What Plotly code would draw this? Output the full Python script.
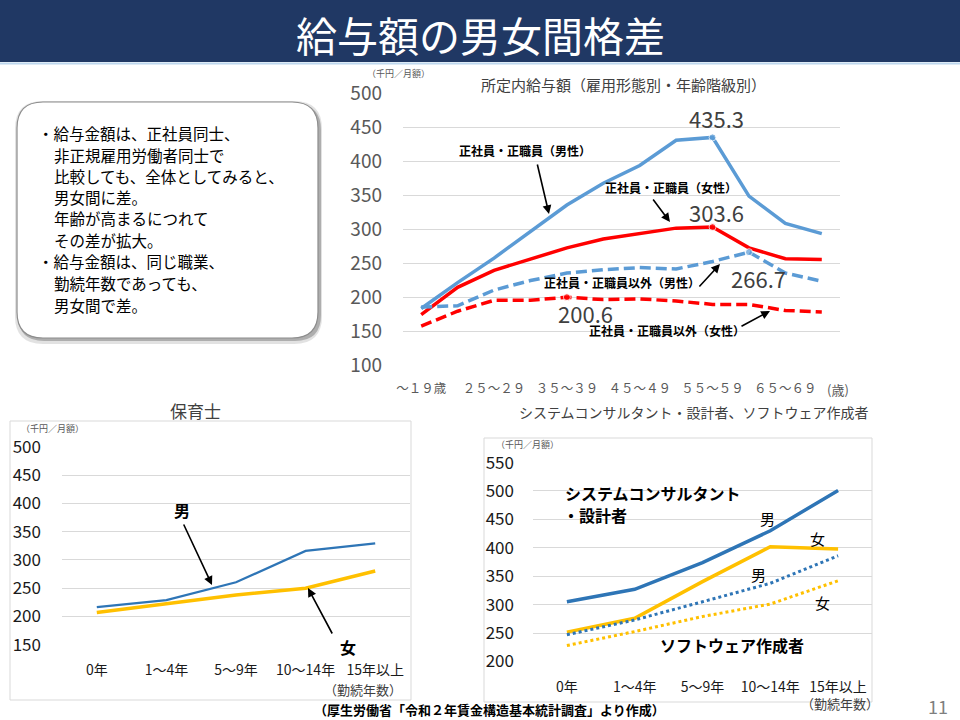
import plotly.graph_objects as go

# ---------------- data ----------------
ages = ["～19歳", "20～24歳", "25～29歳", "30～34歳", "35～39歳", "40～44歳",
        "45～49歳", "50～54歳", "55～59歳", "60～64歳", "65～69歳", "70歳～"]
age_tick_vals = ["～19歳", "25～29歳", "35～39歳", "45～49歳", "55～59歳", "65～69歳"]
age_tick_text = ["～１９歳", "２５～２９", "３５～３９", "４５～４９", "５５～５９", "６５～６９"]

reg_male = [184, 222, 258, 297, 336, 368, 394, 431, 435.3, 349, 309, 294]
reg_female = [175, 215, 240, 257, 273, 286, 294, 302, 303.6, 273, 257, 256]
nonreg_male = [186, 188, 211, 225, 236, 241, 244, 242, 253, 266.7, 236, 224]
nonreg_female = [158, 180, 196, 196, 200.6, 197, 198, 195, 190, 190, 181, 179]

years = ["0年", "1～4年", "5～9年", "10～14年", "15年以上"]
hoiku_male = [216.5, 229, 260.5, 316, 329.5]
hoiku_female = [207, 222, 238, 250, 280.5]

sc_male = [305, 327, 374, 430, 501]
sc_female = [251.5, 276, 340.5, 402, 398]
sw_male = [247, 273, 305, 337.5, 386]
sw_female = [228, 252.5, 279, 301, 342]

summary_lines = [
    ("・給与金額は、正社員同士、", True),
    ("非正規雇用労働者同士で", False),
    ("比較しても、全体としてみると、", False),
    ("男女間に差。", False),
    ("年齢が高まるにつれて", False),
    ("その差が拡大。", False),
    ("・給与金額は、同じ職業、", True),
    ("勤続年数であっても、", False),
    ("男女間で差。", False),
]

# ---------------- helpers ----------------
W, H = 960, 720
FONT = "Noto Sans CJK JP"


def PX(x):
    return x / W


def PY(y):
    return 1 - y / H


def peak_sizes(values, peak_value, size=7):
    return [size if v == peak_value else 0 for v in values]


BLUE_L = "#5B9BD5"
RED = "#FF0000"
BLUE_D = "#2E75B6"
YELLOW = "#FFC000"

fig = go.Figure()

# main chart
fig.add_trace(go.Scatter(x=ages, y=reg_male, mode="lines+markers", xaxis="x", yaxis="y",
                         line=dict(color=BLUE_L, width=3.5),
                         marker=dict(size=peak_sizes(reg_male, 435.3), color=BLUE_L)))
fig.add_trace(go.Scatter(x=ages, y=reg_female, mode="lines+markers", xaxis="x", yaxis="y",
                         line=dict(color=RED, width=3.5),
                         marker=dict(size=peak_sizes(reg_female, 303.6), color=RED)))
fig.add_trace(go.Scatter(x=ages, y=nonreg_male, mode="lines+markers", xaxis="x", yaxis="y",
                         line=dict(color=BLUE_L, width=3.5, dash="11px,5px"),
                         marker=dict(size=peak_sizes(nonreg_male, 266.7), color=BLUE_L)))
fig.add_trace(go.Scatter(x=ages, y=nonreg_female, mode="lines+markers", xaxis="x", yaxis="y",
                         line=dict(color=RED, width=3.5, dash="11px,5px"),
                         marker=dict(size=peak_sizes(nonreg_female, 200.6), color=RED)))

# 保育士
fig.add_trace(go.Scatter(x=years, y=hoiku_male, mode="lines", xaxis="x2", yaxis="y2",
                         line=dict(color=BLUE_D, width=2.2)))
fig.add_trace(go.Scatter(x=years, y=hoiku_female, mode="lines", xaxis="x2", yaxis="y2",
                         line=dict(color=YELLOW, width=3.5)))

# システムコンサルタント / ソフトウェア作成者
fig.add_trace(go.Scatter(x=years, y=sc_male, mode="lines", xaxis="x3", yaxis="y3",
                         line=dict(color=BLUE_D, width=3.5)))
fig.add_trace(go.Scatter(x=years, y=sc_female, mode="lines", xaxis="x3", yaxis="y3",
                         line=dict(color=YELLOW, width=3.5)))
fig.add_trace(go.Scatter(x=years, y=sw_male, mode="lines", xaxis="x3", yaxis="y3",
                         line=dict(color=BLUE_D, width=3, dash="dot")))
fig.add_trace(go.Scatter(x=years, y=sw_female, mode="lines", xaxis="x3", yaxis="y3",
                         line=dict(color=YELLOW, width=3, dash="dot")))

GRID = "#D9D9D9"

axis_common = dict(showline=False, zeroline=False, fixedrange=True, automargin=False)

layout = dict(
    width=W, height=H, autosize=False,
    margin=dict(l=0, r=0, t=0, b=0, pad=0, autoexpand=False),
    paper_bgcolor="white", plot_bgcolor="white",
    showlegend=False,
    font=dict(family=FONT, color="#000000"),
    xaxis=dict(domain=[PX(403), PX(840)], anchor="y", type="category",
               range=[-0.5, 11.5], showgrid=False,
               tickmode="array", tickvals=age_tick_vals, ticktext=age_tick_text,
               tickfont=dict(size=12.5, color="#595959"), ticks="",
               ticklabelstandoff=13, **axis_common),
    yaxis=dict(domain=[PY(366), PY(93)], anchor="x", range=[99.5, 500.5],
               tickvals=[100, 150, 200, 250, 300, 350, 400, 450, 500],
               showgrid=True, gridcolor=GRID, gridwidth=1,
               tickfont=dict(size=19, color="#595959"), ticks="",
               ticklabelstandoff=20, **axis_common),
    xaxis2=dict(domain=[PX(62), PX(410)], anchor="y2", type="category",
                range=[-0.5, 4.5], showgrid=False,
                tickfont=dict(size=14, color="#1a1a1a"), ticks="",
                ticklabelstandoff=15, **axis_common),
    yaxis2=dict(domain=[PY(645), PY(446.7)], anchor="x2", range=[149.5, 500.5],
                tickvals=[150, 200, 250, 300, 350, 400, 450, 500],
                showgrid=True, gridcolor=GRID, gridwidth=1,
                tickfont=dict(size=17, color="#1a1a1a"), ticks="",
                ticklabelstandoff=20, **axis_common),
    xaxis3=dict(domain=[PX(533), PX(872)], anchor="y3", type="category",
                range=[-0.5, 4.5], showgrid=False,
                tickfont=dict(size=14, color="#1a1a1a"), ticks="",
                ticklabelstandoff=15, **axis_common),
    yaxis3=dict(domain=[PY(661.7), PY(462.3)], anchor="x3", range=[199.5, 550.5],
                tickvals=[200, 250, 300, 350, 400, 450, 500, 550],
                showgrid=True, gridcolor=GRID, gridwidth=1,
                tickfont=dict(size=17, color="#1a1a1a"), ticks="",
                ticklabelstandoff=18, **axis_common),
)

shapes = []
# title bar
shapes.append(dict(type="rect", xref="paper", yref="paper", x0=0, x1=1, y0=PY(62), y1=1,
                   fillcolor="#203864", line=dict(width=0), layer="below"))
shapes.append(dict(type="line", xref="paper", yref="paper", x0=0, x1=1, y0=PY(63.5), y1=PY(63.5),
                   line=dict(color="#BDD7EE", width=2)))


def rrect_path(x0, y0, x1, y1, r):
    rx, ry = r / W, r / H
    a0, a1 = PX(x0), PX(x1)
    b0, b1 = PY(y1), PY(y0)  # bottom, top in paper
    return (f"M {a0+rx},{b1} L {a1-rx},{b1} Q {a1},{b1} {a1},{b1-ry} "
            f"L {a1},{b0+ry} Q {a1},{b0} {a1-rx},{b0} L {a0+rx},{b0} "
            f"Q {a0},{b0} {a0},{b0+ry} L {a0},{b1-ry} Q {a0},{b1} {a0+rx},{b1} Z")


# summary box with soft shadow
shapes.append(dict(type="path", xref="paper", yref="paper", path=rrect_path(15, 101, 322, 344, 28),
                   fillcolor="rgba(140,140,140,0.25)", line=dict(width=0)))
shapes.append(dict(type="path", xref="paper", yref="paper", path=rrect_path(18, 104, 321, 341, 26),
                   fillcolor="rgba(110,110,110,0.45)", line=dict(width=0)))
shapes.append(dict(type="path", xref="paper", yref="paper", path=rrect_path(17, 102, 318, 338, 26),
                   fillcolor="white", line=dict(color="#8C8C8C", width=1.2)))

# chart frames for the two bottom charts
shapes.append(dict(type="rect", xref="paper", yref="paper", x0=PX(10), x1=PX(411), y0=PY(700), y1=PY(421),
                   line=dict(color="#D9D9D9", width=1), fillcolor="rgba(0,0,0,0)", layer="below"))
shapes.append(dict(type="rect", xref="paper", yref="paper", x0=PX(484), x1=PX(872), y0=PY(702), y1=PY(438),
                   line=dict(color="#D9D9D9", width=1), fillcolor="rgba(0,0,0,0)", layer="below"))
layout["shapes"] = shapes

ann = []


def txt(x, y, s, size, color="#000000", bold=False, xanchor="center", yanchor="middle"):
    ann.append(dict(xref="paper", yref="paper", x=PX(x), y=PY(y), text=f"<b>{s}</b>" if bold else s,
                    showarrow=False, xanchor=xanchor, yanchor=yanchor,
                    font=dict(family=FONT, size=size, color=color)))


def arrow(x_tail, y_tail, x_head, y_head):
    ann.append(dict(xref="paper", yref="paper", axref="pixel", ayref="pixel",
                    x=PX(x_head), y=PY(y_head), ax=x_tail - x_head, ay=y_tail - y_head, text="",
                    showarrow=True, arrowhead=2, arrowsize=1.1, arrowwidth=1.6, arrowcolor="#000000"))


# title
txt(480, 34, "給与額の男女間格差", 41, color="white")

# summary text
line_ys = [133, 155, 176, 197, 218, 240, 261, 283, 305]
for (s, bullet), y in zip(summary_lines, line_ys):
    txt(36 if bullet else 52, y, s, 15.5, xanchor="left")

# main chart texts
txt(623, 84, "所定内給与額（雇用形態別・年齢階級別）", 15, color="#404040")
txt(398, 74, "（千円／月額）", 9, color="#595959")
txt(838, 389, "(歳)", 13, color="#595959")

# peak values (data-anchored)
peak_labels = [(ages[8], 435.3, "435.3", 4, 19), (ages[8], 303.6, "303.6", 4, 15),
               (ages[9], 266.7, "266.7", 10, -26), (ages[4], 200.6, "200.6", 19, -16)]
for cx, cy, s, xs, ys in peak_labels:
    ann.append(dict(xref="x", yref="y", x=cx, y=cy, text=s, showarrow=False,
                    xshift=xs, yshift=ys, font=dict(family=FONT, size=22, color="#404040")))

txt(525, 150, "正社員・正職員（男性）", 12, bold=True)
txt(671, 188, "正社員・正職員（女性）", 12, bold=True)
txt(622, 283, "正社員・正職員以外（男性）", 12, bold=True)
txt(667, 331, "正社員・正職員以外（女性）", 12, bold=True)
arrow(537, 163, 549, 214)
arrow(652, 198, 670, 222)
arrow(698, 288, 720, 264)
arrow(740, 327, 770, 311)

# 保育士 chart texts
txt(195, 410, "保育士", 17, color="#404040")
txt(52, 428, "（千円／月額）", 9, color="#595959")
txt(182, 510, "男", 16, bold=True)
txt(348, 647, "女", 16, bold=True)
arrow(183, 523, 212, 585)
arrow(333, 635, 308, 588)
txt(363, 689, "（勤続年数）", 13, color="#404040")

# SC / SW chart texts
txt(694, 412, "システムコンサルタント・設計者、ソフトウェア作成者", 14, color="#404040")
txt(527, 444, "（千円／月額）", 9, color="#595959")
txt(563, 493, "システムコンサルタント", 16, bold=True, xanchor="left")
txt(561, 515, "・設計者", 16, bold=True, xanchor="left")
txt(732, 645, "ソフトウェア作成者", 16, bold=True)
txt(767, 518, "男", 15)
txt(817, 538, "女", 15)
txt(758, 574, "男", 15)
txt(822, 602, "女", 15)
txt(840, 703, "（勤続年数）", 13, color="#404040")

# footer
txt(489, 709, "（厚生労働省「令和２年賃金構造基本統計調査」より作成）", 13, bold=True)
txt(938, 706, "11", 18, color="#7F7F7F")

layout["annotations"] = ann
fig.update_layout(**layout)

fig.write_html(
    "out.html",
    config={"displayModeBar": False, "responsive": False},
    post_script="document.documentElement.style.margin='0';document.body.style.margin='0';"
                "document.body.style.overflow='hidden';document.documentElement.style.overflow='hidden';",
)
